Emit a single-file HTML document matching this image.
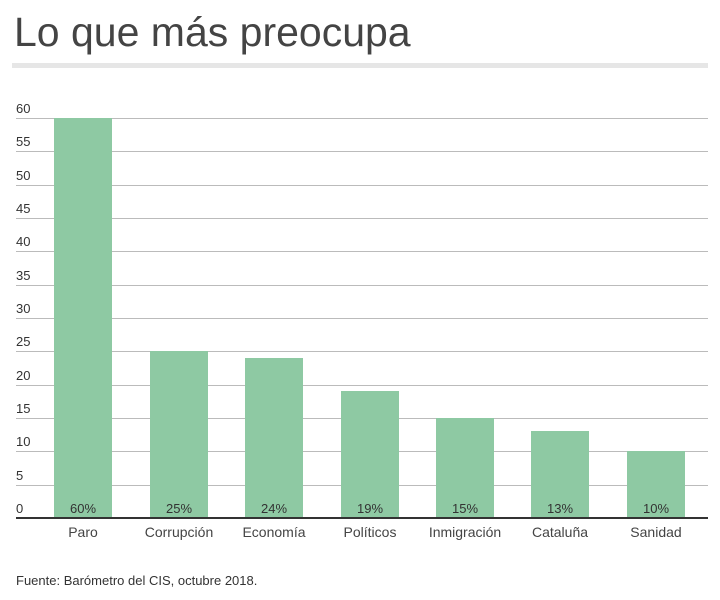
<!DOCTYPE html>
<html><head><meta charset="utf-8"><style>
body{margin:0;background:#fff;width:720px;height:600px;overflow:hidden}
svg{display:block}
</style></head><body>
<svg width="720" height="600" xmlns="http://www.w3.org/2000/svg" font-family="Liberation Sans, sans-serif">
<text x="14" y="46" font-size="41" fill="#444">Lo que más preocupa</text>
<rect x="12" y="63" width="696" height="5" fill="#e6e6e6"/>
<g stroke="#bbb" stroke-width="1">
<line x1="16" x2="708" y1="118.5" y2="118.5"/>
<line x1="16" x2="708" y1="151.5" y2="151.5"/>
<line x1="16" x2="708" y1="185.5" y2="185.5"/>
<line x1="16" x2="708" y1="218.5" y2="218.5"/>
<line x1="16" x2="708" y1="251.5" y2="251.5"/>
<line x1="16" x2="708" y1="285.5" y2="285.5"/>
<line x1="16" x2="708" y1="318.5" y2="318.5"/>
<line x1="16" x2="708" y1="351.5" y2="351.5"/>
<line x1="16" x2="708" y1="385.5" y2="385.5"/>
<line x1="16" x2="708" y1="418.5" y2="418.5"/>
<line x1="16" x2="708" y1="451.5" y2="451.5"/>
<line x1="16" x2="708" y1="485.5" y2="485.5"/>
</g>
<g font-size="13" fill="#333">
<text x="16" y="113">60</text><text x="16" y="146">55</text><text x="16" y="180">50</text>
<text x="16" y="213">45</text><text x="16" y="246">40</text><text x="16" y="280">35</text>
<text x="16" y="313">30</text><text x="16" y="346">25</text><text x="16" y="380">20</text>
<text x="16" y="413">15</text><text x="16" y="446">10</text><text x="16" y="480">5</text>
<text x="16" y="513">0</text>
</g>
<g fill="#8ec9a3">
<rect x="54" y="118" width="58" height="400"/>
<rect x="150" y="351" width="58" height="167"/>
<rect x="245" y="358" width="58" height="160"/>
<rect x="341" y="391" width="58" height="127"/>
<rect x="436" y="418" width="58" height="100"/>
<rect x="531" y="431" width="58" height="87"/>
<rect x="627" y="451" width="58" height="67"/>
</g>
<line x1="16" x2="708" y1="518" y2="518" stroke="#333" stroke-width="2"/>
<g font-size="13" fill="#333" text-anchor="middle">
<text x="83" y="513">60%</text><text x="179" y="513">25%</text><text x="274" y="513">24%</text>
<text x="370" y="513">19%</text><text x="465" y="513">15%</text><text x="560" y="513">13%</text>
<text x="656" y="513">10%</text>
</g>
<g font-size="14" fill="#444" text-anchor="middle">
<text x="83" y="537">Paro</text><text x="179" y="537">Corrupción</text><text x="274" y="537">Economía</text>
<text x="370" y="537">Políticos</text><text x="465" y="537">Inmigración</text><text x="560" y="537">Cataluña</text>
<text x="656" y="537">Sanidad</text>
</g>
<text x="16" y="585" font-size="13" fill="#333">Fuente: Barómetro del CIS, octubre 2018.</text>
</svg>
</body></html>
